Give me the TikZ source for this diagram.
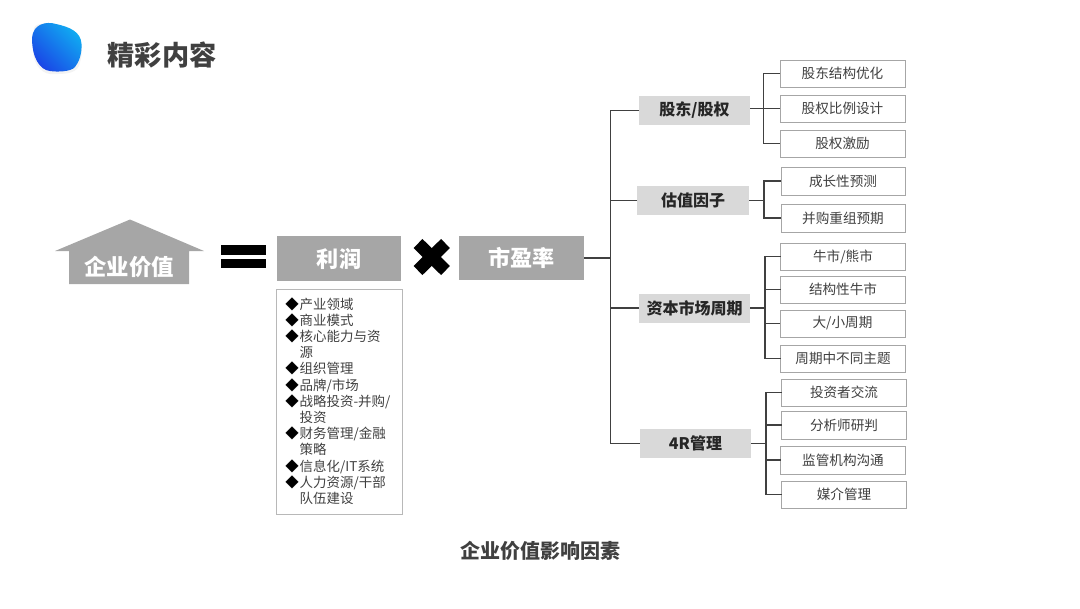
\documentclass[tikz,border=0pt]{standalone}
\usepackage{fontspec}
\setmainfont{Noto Sans CJK SC}
\definecolor{txt}{HTML}{404040}
\definecolor{darkbox}{HTML}{A6A6A6}
\definecolor{midbox}{HTML}{D9D9D9}
\definecolor{line}{HTML}{404040}
\definecolor{blobA}{HTML}{10AEF2}
\definecolor{blobB}{HTML}{1A46E6}
\tikzset{
  wh/.style 2 args={minimum width=#1*0.75pt,minimum height=#2*0.75pt,inner sep=0pt,outer sep=0pt},
  leafbox/.style={draw=darkbox,line width=0.75pt,fill=white,text=txt,font=\fontsize{10.2}{12}\selectfont},
  midnode/.style={fill=midbox,text=black!85,font=\fontsize{12}{14}\bfseries\selectfont},
  bigbox/.style={fill=darkbox,text=white,font=\fontsize{16.6}{20}\bfseries\selectfont},
  conn/.style={draw=line,line width=0.8pt},
}
\begin{document}
\begin{tikzpicture}[x=0.75pt,y=-0.75pt]
\useasboundingbox (0,0) rectangle (1080,608);
% blob
\fill[black!25,opacity=.18] (34,28) .. controls (36,21) and (56,23) .. (68,30) .. controls (84,38) and (84,50) .. (79,66) .. controls (75,75) and (60,74) .. (50,74) .. controls (40,73) and (33,62) .. (33,50) -- cycle;
\shade[bottom color=blobB,top color=blobA,shading angle=-45,middle color=blobA!50!blobB]
  (32,38) .. controls (33,24) and (46,21) .. (56,24) .. controls (70,27) and (81,32) .. (81.5,44) .. controls (82,54) and (79,62) .. (75,67) .. controls (71,72) and (56,72) .. (50,71) .. controls (40,70) and (32,58) .. (32,38) -- cycle;
\node[text=txt,font=\fontsize{20.4}{24}\bfseries\selectfont] (title) at (162,54.5) {精彩内容};
% house
\fill[darkbox] (130,219.5) -- (204,251) -- (189,251) -- (189,284) -- (69,284) -- (69,251) -- (55,251) -- cycle;
\node[text=white,font=\fontsize{16.8}{20}\bfseries\selectfont] (value) at (129,267) {企业价值};
% equals
\fill[black] (221,245) rectangle (266,254.5);
\fill[black] (221,259) rectangle (266,268);
% profit & pe
\node[bigbox,wh={124}{45}] (profit) at (339,258.5) {利润};
\draw[black,line width=9.5pt] (418,243.5) -- (445.5,270.5);
\draw[black,line width=9.5pt] (445.5,243.5) -- (418,270.5);
\node[bigbox,wh={125}{44}] (pe) at (521.5,258) {市盈率};
% list
\node[draw=black!28,line width=0.75pt,wh={126}{225}] (listbox) at (339,401.5) {};
\node[anchor=west,align=left,inner sep=0pt,text=txt,font=\fontsize{10.1}{12.15}\selectfont] (listtxt) at (285,401) {%
\makebox[10.8pt][l]{\color{black}◆}产业领域\\
\makebox[10.8pt][l]{\color{black}◆}商业模式\\
\makebox[10.8pt][l]{\color{black}◆}核心能力与资\\
\hspace*{10.8pt}源\\
\makebox[10.8pt][l]{\color{black}◆}组织管理\\
\makebox[10.8pt][l]{\color{black}◆}品牌/市场\\
\makebox[10.8pt][l]{\color{black}◆}战略投资-并购/\\
\hspace*{10.8pt}投资\\
\makebox[10.8pt][l]{\color{black}◆}财务管理/金融\\
\hspace*{10.8pt}策略\\
\makebox[10.8pt][l]{\color{black}◆}信息化/IT系统\\
\makebox[10.8pt][l]{\color{black}◆}人力资源/干部\\
\hspace*{10.8pt}队伍建设};
% mid nodes
\node[midnode,wh={111}{29}] (m1) at (694.5,110.5) {股东/股权};
\node[midnode,wh={112}{29}] (m2) at (693,200.5) {估值因子};
\node[midnode,wh={111}{29}] (m3) at (694.5,308) {资本市场周期};
\node[midnode,wh={111}{29}] (m4) at (695.5,443.5) {4R管理};
% leaves
\node[leafbox,wh={125}{27}] (a1) at (842.5,73.5) {股东结构优化};
\node[leafbox,wh={125}{27}] (a2) at (842.5,108.5) {股权比例设计};
\node[leafbox,wh={125}{27}] (a3) at (842.5,143.5) {股权激励};
\node[leafbox,wh={124}{28}] (b1) at (843,181) {成长性预测};
\node[leafbox,wh={124}{28}] (b2) at (843,218) {并购重组预期};
\node[leafbox,wh={125}{27}] (c1) at (843,256.5) {牛市/熊市};
\node[leafbox,wh={125}{27}] (c2) at (843,289.5) {结构性牛市};
\node[leafbox,wh={125}{27}] (c3) at (842.5,323.5) {大/小周期};
\node[leafbox,wh={125}{27}] (c4) at (843,358.5) {周期中不同主题};
\node[leafbox,wh={125}{27}] (d1) at (844,392.5) {投资者交流};
\node[leafbox,wh={125}{28}] (d2) at (844,425) {分析师研判};
\node[leafbox,wh={125}{28}] (d3) at (843,460) {监管机构沟通};
\node[leafbox,wh={125}{27}] (d4) at (844,494.5) {媒介管理};
% caption
\node[text=txt,font=\fontsize{15}{18}\bfseries\selectfont] (caption) at (540,551) {企业价值影响因素};
% junctions
\coordinate (j0) at (610.5,258);
\coordinate (j1) at (763.5,108.5);
\coordinate (j2) at (764,200.5);
\coordinate (j3) at (765,308);
\coordinate (j4) at (766,443.5);
% connectors
\draw[conn] (pe.east) -- (j0);
\draw[conn] (m1.west) -| (j0) |- (m4.west);
\draw[conn] (m2.west) -- (m2.west -| j0);
\draw[conn] (m3.west) -- (m3.west -| j0);
\draw[conn] (m1.east |- j1) -- (a2.west);
\draw[conn] (a1.west) -| (j1) |- (a3.west);
\draw[conn] (m2.east) -- (j2);
\draw[conn] (b1.west) -| (j2) |- (b2.west);
\draw[conn] (m3.east) -- (j3);
\draw[conn] (c1.west) -| (j3) |- (c4.west);
\draw[conn] (c2.west) -- (c2.west -| j3);
\draw[conn] (c3.west) -- (c3.west -| j3);
\draw[conn] (m4.east) -- (j4);
\draw[conn] (d1.west) -| (j4) |- (d4.west);
\draw[conn] (d2.west) -- (d2.west -| j4);
\draw[conn] (d3.west) -- (d3.west -| j4);
\end{tikzpicture}
\end{document}
